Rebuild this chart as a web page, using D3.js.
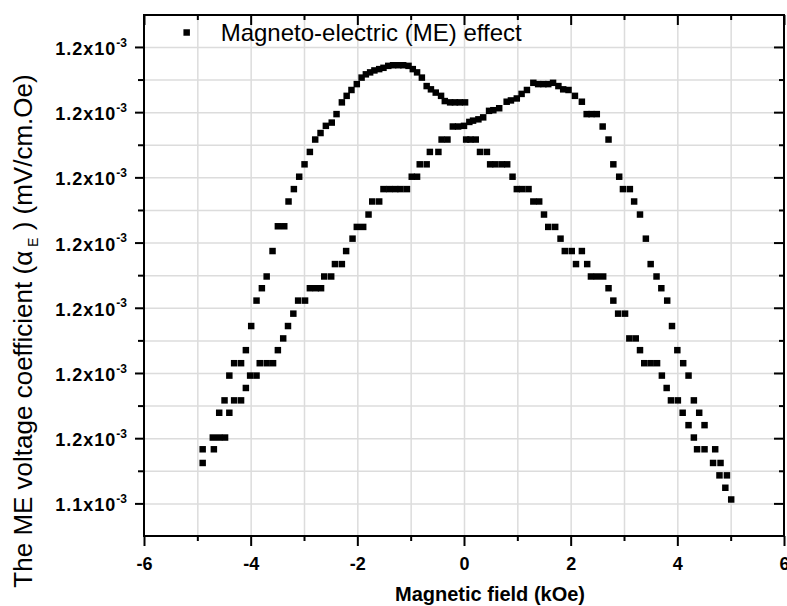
<!DOCTYPE html>
<html>
<head>
<meta charset="utf-8">
<script src="https://cdn.jsdelivr.net/npm/d3@7"></script>
<style>
  html, body { margin: 0; padding: 0; background: #fff; }
  svg { display: block; font-family: "Liberation Sans", Arial, sans-serif; }
  .grid line { stroke: #dcdcdc; stroke-width: 1.5; }
  .grid .domain { display: none; }
  .axis .domain { display: none; }
  .axis line { stroke: #000; stroke-width: 2; }
  .axis text { font-size: 18px; font-weight: bold; fill: #000; }
</style>
</head>
<body>
<div id="chart"></div>
<script>
// ME voltage coefficient vs magnetic field, two sweeps
const fieldForward = [
  -4.90, -4.71, -4.59, -4.49, -4.40, -4.31, -4.18, -4.09, -3.99, -3.89,
  -3.79, -3.70, -3.59, -3.49, -3.37, -3.29, -3.19, -3.09, -2.99, -2.89,
  -2.79, -2.69, -2.59, -2.48, -2.39, -2.29, -2.20, -2.11, -2.01, -1.92,
  -1.84, -1.76, -1.68, -1.59, -1.51, -1.42, -1.33, -1.23, -1.14, -1.04,
  -0.96, -0.88, -0.79, -0.70, -0.62, -0.53, -0.43, -0.36, -0.26, -0.17,
  -0.08, 0.02,
  0.04, 0.12, 0.22, 0.30, 0.43, 0.49, 0.59, 0.71, 0.81, 0.91,
  0.99, 1.09, 1.21, 1.30, 1.41, 1.50, 1.58, 1.71, 1.81, 1.89,
  2.02, 2.10, 2.21, 2.31, 2.38, 2.49, 2.61, 2.71, 2.80, 2.89,
  3.02, 3.10, 3.22, 3.30, 3.38, 3.50, 3.62, 3.71, 3.80, 3.88,
  4.01, 4.10, 4.21, 4.31, 4.37, 4.51, 4.67, 4.79, 4.90
];
// values in units of 1e-3 mV/cm.Oe
const alphaForward = [
  1.1483, 1.1501, 1.1539, 1.1558, 1.1596, 1.1615, 1.1615, 1.1635, 1.1672, 1.1711,
  1.1730, 1.1748, 1.1787, 1.1825, 1.1825, 1.1863, 1.1882, 1.1901, 1.1920, 1.1939,
  1.1958, 1.1968, 1.1979, 1.1984, 1.1997, 1.2015, 1.2025, 1.2034, 1.2043, 1.2053,
  1.2058, 1.2061, 1.2064, 1.2066, 1.2068, 1.2071, 1.2072, 1.2072, 1.2072, 1.2071,
  1.2066, 1.2061, 1.2053, 1.2040, 1.2035, 1.2030, 1.2025, 1.2017, 1.2015, 1.2015,
  1.2015, 1.2015,
  1.1958, 1.1958, 1.1958, 1.1939, 1.1939, 1.1920, 1.1920, 1.1920, 1.1920, 1.1901,
  1.1882, 1.1882, 1.1882, 1.1863, 1.1863, 1.1843, 1.1824, 1.1824, 1.1806, 1.1787,
  1.1787, 1.1767, 1.1787, 1.1767, 1.1748, 1.1748, 1.1748, 1.1730, 1.1711, 1.1691,
  1.1691, 1.1653, 1.1653, 1.1635, 1.1615, 1.1615, 1.1615, 1.1596, 1.1577, 1.1558,
  1.1558, 1.1539, 1.1520, 1.1501, 1.1483, 1.1483, 1.1462, 1.1443, 1.1424
];

const fieldReverse = [
  -4.90, -4.69, -4.59, -4.48, -4.40, -4.31, -4.18, -4.09, -4.01, -3.89,
  -3.83, -3.70, -3.58, -3.49, -3.39, -3.30, -3.20, -3.11, -2.98, -2.89,
  -2.78, -2.68, -2.62, -2.49, -2.42, -2.29, -2.21, -2.09, -2.01, -1.89,
  -1.79, -1.72, -1.59, -1.51, -1.40, -1.29, -1.19, -1.07, -0.98, -0.88,
  -0.83, -0.70, -0.64, -0.48, -0.42, -0.31, -0.21, -0.11, 0.00, 0.10,
  0.17, 0.27, 0.36, 0.47, 0.55, 0.66, 0.80, 0.88, 0.99, 1.08,
  1.18, 1.30, 1.39, 1.49, 1.58, 1.67, 1.77, 1.86, 1.96, 2.08,
  2.21, 2.30, 2.39, 2.49, 2.60, 2.71, 2.80, 2.91, 2.98, 3.11,
  3.19, 3.30, 3.41, 3.50, 3.61, 3.70, 3.81, 3.90, 4.00, 4.11,
  4.21, 4.31, 4.41, 4.51, 4.71, 4.81, 4.93, 5.01
];
const alphaReverse = [
  1.1462, 1.1483, 1.1501, 1.1501, 1.1539, 1.1558, 1.1558, 1.1577, 1.1596, 1.1596,
  1.1615, 1.1615, 1.1615, 1.1635, 1.1653, 1.1672, 1.1691, 1.1711, 1.1711, 1.1730,
  1.1730, 1.1730, 1.1748, 1.1748, 1.1767, 1.1767, 1.1787, 1.1806, 1.1824, 1.1824,
  1.1843, 1.1863, 1.1863, 1.1882, 1.1882, 1.1882, 1.1882, 1.1882, 1.1901, 1.1901,
  1.1920, 1.1920, 1.1939, 1.1939, 1.1958, 1.1958, 1.1978, 1.1978, 1.1979, 1.1985,
  1.1987, 1.1989, 1.1992, 1.2002, 1.2003, 1.2006, 1.2016, 1.2018, 1.2021, 1.2028,
  1.2034, 1.2045, 1.2043, 1.2043, 1.2043, 1.2045, 1.2040, 1.2035, 1.2034, 1.2025,
  1.2016, 1.1997, 1.1997, 1.1997, 1.1978, 1.1958, 1.1920, 1.1901, 1.1882, 1.1882,
  1.1863, 1.1843, 1.1806, 1.1767, 1.1748, 1.1730, 1.1711, 1.1672, 1.1635, 1.1615,
  1.1596, 1.1558, 1.1539, 1.1520, 1.1483, 1.1462, 1.1443, 1.1406
];

const xMajorTicks = [-6, -4, -2, 0, 2, 4, 6];
const xMinorTicks = [-5, -3, -1, 1, 3, 5];
const xGridTicks = [-5, -4, -3, -2, -1, 0, 1, 2, 3, 4, 5];
const yMajorTicks = [1.14, 1.15, 1.16, 1.17, 1.18, 1.19, 1.20, 1.21];
const yTickLabels = ["1.1", "1.2", "1.2", "1.2", "1.2", "1.2", "1.2", "1.2"];
const yExponent = "-3";
const yMinorTicks = [1.145, 1.155, 1.165, 1.175, 1.185, 1.195, 1.205];
const yGridTicks = yMajorTicks.concat(yMinorTicks);

const width = 787;
const height = 606;
const margin = { top: 15, right: 3, bottom: 70, left: 144 };
const innerWidth = width - margin.left - margin.right;
const innerHeight = height - margin.top - margin.bottom;

const svg = d3.select("#chart")
  .append("svg")
  .attr("width", width)
  .attr("height", height);

const g = svg.append("g")
  .attr("transform", `translate(${margin.left},${margin.top})`);

const x = d3.scaleLinear().domain([-6, 6]).range([0, innerWidth]);
const y = d3.scaleLinear().domain([1.135, 1.2149]).range([innerHeight, 0]);

// grid
g.append("g")
  .attr("class", "grid")
  .attr("transform", `translate(0,${innerHeight})`)
  .call(d3.axisBottom(x).tickValues(xGridTicks).tickSize(-innerHeight).tickFormat(""));

g.append("g")
  .attr("class", "grid")
  .call(d3.axisLeft(y).tickValues(yGridTicks).tickSize(-innerWidth).tickFormat(""));

// bottom axis
g.append("g")
  .attr("class", "axis")
  .attr("transform", `translate(0,${innerHeight})`)
  .call(d3.axisBottom(x).tickValues(xMajorTicks).tickSize(10).tickPadding(11).tickFormat(d => String(d)));

g.append("g")
  .attr("class", "axis")
  .attr("transform", `translate(0,${innerHeight})`)
  .call(d3.axisBottom(x).tickValues(xMinorTicks).tickSize(5).tickFormat(""));

// top axis, ticks inside
g.append("g")
  .attr("class", "axis")
  .call(d3.axisTop(x).tickValues(xMajorTicks).tickSize(-10).tickFormat(""));
g.append("g")
  .attr("class", "axis")
  .call(d3.axisTop(x).tickValues(xMinorTicks).tickSize(-5).tickFormat(""));

// left axis
const yAxisG = g.append("g")
  .attr("class", "axis")
  .call(d3.axisLeft(y).tickValues(yMajorTicks).tickSize(9).tickPadding(8));

yAxisG.selectAll(".tick text")
  .text(null)
  .attr("dy", "0.42em")
  .style("letter-spacing", "1px")
  .each(function(d) {
    const t = d3.select(this);
    t.append("tspan").text(yTickLabels[yMajorTicks.indexOf(d)] + "x10");
    t.append("tspan")
      .attr("dy", "-0.7em")
      .style("font-size", "12px")
      .style("letter-spacing", "0px")
      .text(yExponent);
  });

g.append("g")
  .attr("class", "axis")
  .call(d3.axisLeft(y).tickValues(yMinorTicks).tickSize(6).tickFormat(""));

// right axis, ticks inside
g.append("g")
  .attr("class", "axis")
  .attr("transform", `translate(${innerWidth},0)`)
  .call(d3.axisRight(y).tickValues(yMajorTicks).tickSize(-10).tickFormat(""));
g.append("g")
  .attr("class", "axis")
  .attr("transform", `translate(${innerWidth},0)`)
  .call(d3.axisRight(y).tickValues(yMinorTicks).tickSize(-5).tickFormat(""));

// frame
g.append("rect")
  .attr("width", innerWidth)
  .attr("height", innerHeight)
  .attr("fill", "none")
  .attr("stroke", "#000")
  .attr("stroke-width", 2);

// points
const square = d3.symbol().type(d3.symbolSquare).size(42);
const points = fieldForward.map((f, i) => ({ f: f, a: alphaForward[i] }))
  .concat(fieldReverse.map((f, i) => ({ f: f, a: alphaReverse[i] })));

g.append("g")
  .selectAll("path")
  .data(points)
  .enter()
  .append("path")
  .attr("d", square)
  .attr("transform", d => `translate(${x(d.f)},${y(d.a)})`)
  .attr("fill", "#000");

// legend
const legend = g.append("g").attr("transform", `translate(${x(-5.2)},0)`);
legend.append("path")
  .attr("d", square)
  .attr("transform", "translate(0,17.5)")
  .attr("fill", "#000");
legend.append("text")
  .attr("x", 34)
  .attr("y", 26)
  .attr("fill", "#000")
  .style("font-size", "24px")
  .text("Magneto-electric (ME) effect");

// axis titles
svg.append("text")
  .attr("x", 490)
  .attr("y", 601)
  .attr("text-anchor", "middle")
  .attr("fill", "#000")
  .style("font-size", "20px")
  .style("font-weight", "bold")
  .text("Magnetic field (kOe)");

const yTitle = svg.append("text")
  .attr("transform", "translate(32,331) rotate(-90)")
  .attr("text-anchor", "middle")
  .attr("fill", "#000")
  .style("font-size", "26px");
yTitle.append("tspan").text("The ME voltage coefficient (α");
yTitle.append("tspan").attr("dy", "6").style("font-size", "14px").text(" E");
yTitle.append("tspan").attr("dy", "-6").text(" ) (mV/cm.Oe)");
</script>
</body>
</html>
